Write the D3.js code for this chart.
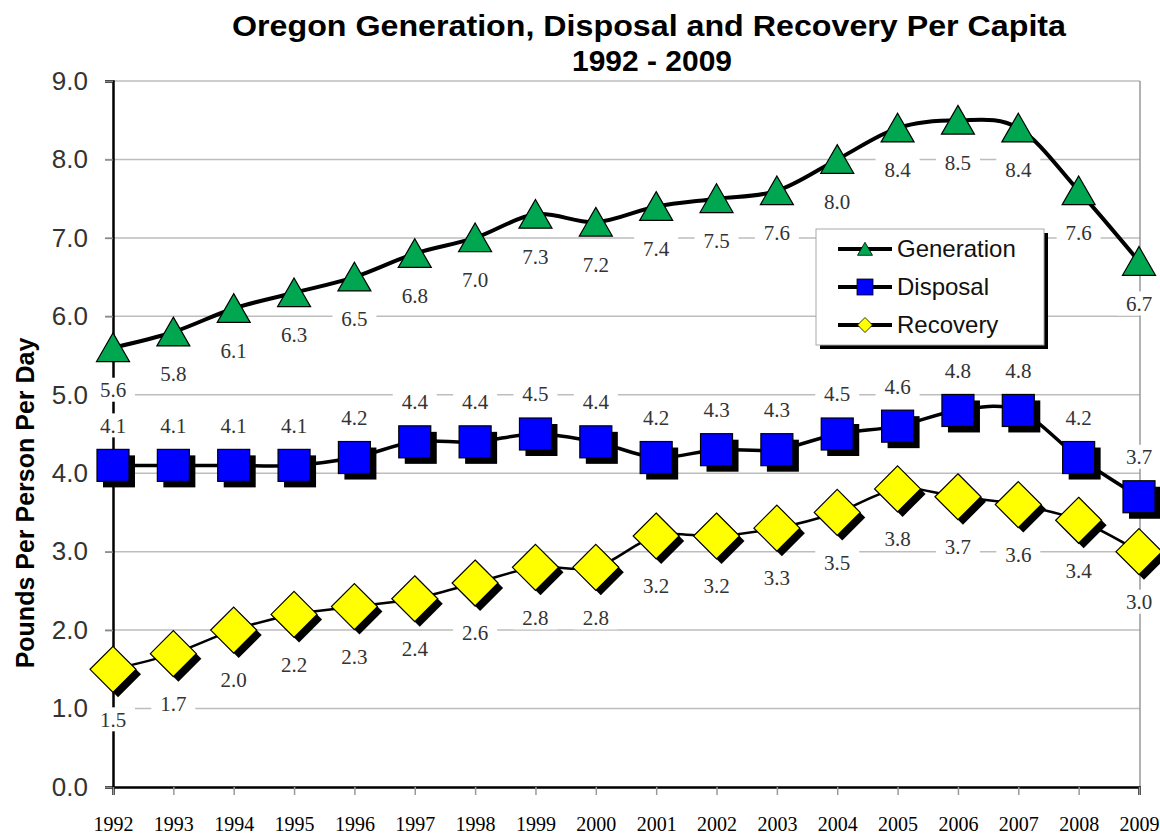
<!DOCTYPE html>
<html>
<head>
<meta charset="utf-8">
<script src="https://cdn.jsdelivr.net/npm/d3@7"></script>
<style>
  body { margin: 0; background: #fff; }
  svg { display: block; }
</style>
</head>
<body>
<div id="chart"></div>
<script>
const years = ["1992","1993","1994","1995","1996","1997","1998","1999","2000",
               "2001","2002","2003","2004","2005","2006","2007","2008","2009"];
const generation = [5.6, 5.8, 6.1, 6.3, 6.5, 6.8, 7.0, 7.3, 7.2, 7.4, 7.5, 7.6, 8.0, 8.4, 8.5, 8.4, 7.6, 6.7];
const disposal   = [4.1, 4.1, 4.1, 4.1, 4.2, 4.4, 4.4, 4.5, 4.4, 4.2, 4.3, 4.3, 4.5, 4.6, 4.8, 4.8, 4.2, 3.7];
const recovery   = [1.5, 1.7, 2.0, 2.2, 2.3, 2.4, 2.6, 2.8, 2.8, 3.2, 3.2, 3.3, 3.5, 3.8, 3.7, 3.6, 3.4, 3.0];
const yTicks = [0, 1, 2, 3, 4, 5, 6, 7, 8, 9];
const seriesNames = ["Generation", "Disposal", "Recovery"];

const width = 1160, height = 834;
const plotLeft = 113, plotRight = 1139, plotTop = 81, plotBottom = 787;

const svg = d3.select("#chart").append("svg")
    .attr("width", width)
    .attr("height", height);

const x = d3.scalePoint().domain(years).range([plotLeft, plotRight]);
const y = d3.scaleLinear().domain([0, 9]).range([plotBottom, plotTop]);

// Title
svg.append("text")
    .attr("x", 649).attr("y", 36)
    .attr("text-anchor", "middle")
    .attr("textLength", 834).attr("lengthAdjust", "spacingAndGlyphs")
    .style("font", "bold 29px Arial, 'Liberation Sans', sans-serif")
    .text("Oregon Generation, Disposal and Recovery Per Capita");
svg.append("text")
    .attr("x", 652).attr("y", 71)
    .attr("text-anchor", "middle")
    .attr("textLength", 160).attr("lengthAdjust", "spacingAndGlyphs")
    .style("font", "bold 29px Arial, 'Liberation Sans', sans-serif")
    .text("1992 - 2009");

// Y axis title
svg.append("text")
    .attr("transform", "translate(34,503) rotate(-90)")
    .attr("text-anchor", "middle")
    .style("font", "bold 25px Arial, 'Liberation Sans', sans-serif")
    .text("Pounds Per Person Per Day");

// Gridlines
svg.append("g")
    .selectAll("line")
    .data(yTicks.filter(d => d > 0))
    .join("line")
    .attr("x1", plotLeft - 8).attr("x2", plotRight + 1)
    .attr("y1", d => y(d)).attr("y2", d => y(d))
    .attr("stroke", "#bdbdbd")
    .attr("stroke-width", 1.5);

// right border of plot area
svg.append("line")
    .attr("x1", plotRight + 1).attr("x2", plotRight + 1)
    .attr("y1", plotTop).attr("y2", plotBottom)
    .attr("stroke", "#999")
    .attr("stroke-width", 1.5);

// Y axis
const yAxis = svg.append("g")
    .attr("transform", `translate(${plotLeft},0)`)
    .call(d3.axisLeft(y).tickValues(yTicks).tickFormat(d3.format(".1f")).tickSize(8).tickPadding(17));
yAxis.select(".domain").attr("stroke", "#000").attr("stroke-width", 2.5);
yAxis.selectAll(".tick line").attr("stroke", "#888").attr("stroke-width", 1.5);
yAxis.selectAll(".tick text")
    .attr("fill", "#333")
    .style("font", "26px Arial, 'Liberation Sans', sans-serif");

// X axis
const xAxis = svg.append("g")
    .attr("transform", `translate(0,${plotBottom})`)
    .call(d3.axisBottom(x).tickSize(8).tickPadding(22));
xAxis.select(".domain").attr("stroke", "#000").attr("stroke-width", 2.5);
xAxis.selectAll(".tick line").attr("stroke", "#999").attr("stroke-width", 1.5);
xAxis.selectAll(".tick text")
    .attr("fill", "#000")
    .style("font", "20px 'Times New Roman', 'Liberation Serif', serif");

const line = d3.line()
    .x((d, i) => x(years[i]))
    .y(d => y(d))
    .curve(d3.curveCardinal.tension(0));

// Series lines
svg.append("path").datum(generation).attr("d", line)
    .attr("fill", "none").attr("stroke", "#000").attr("stroke-width", 4);
svg.append("path").datum(disposal).attr("d", line)
    .attr("fill", "none").attr("stroke", "#000").attr("stroke-width", 3.5);
svg.append("path").datum(recovery).attr("d", line)
    .attr("fill", "none").attr("stroke", "#000").attr("stroke-width", 2.5);

// Markers
const tri = (s) => `M0,${-s * 0.45}L${s / 2},${s * 0.42}L${-s / 2},${s * 0.42}Z`;
const diamond = (s) => `M0,${-s / 2}L${s / 2},0L0,${s / 2}L${-s / 2},0Z`;

svg.append("g").selectAll("path")
    .data(generation)
    .join("path")
    .attr("transform", (d, i) => `translate(${x(years[i])},${y(d)})`)
    .attr("d", tri(33))
    .attr("fill", "#00a650")
    .attr("stroke", "#000").attr("stroke-width", 1.2);

const dispG = svg.append("g").selectAll("g")
    .data(disposal)
    .join("g")
    .attr("transform", (d, i) => `translate(${x(years[i])},${y(d)})`);
dispG.append("rect")
    .attr("x", -16 + 6).attr("y", -16 + 6).attr("width", 32).attr("height", 32)
    .attr("fill", "#000");
dispG.append("rect")
    .attr("x", -16).attr("y", -16).attr("width", 32).attr("height", 32)
    .attr("fill", "#0000ff")
    .attr("stroke", "#000").attr("stroke-width", 1.2);

const recG = svg.append("g").selectAll("g")
    .data(recovery)
    .join("g")
    .attr("transform", (d, i) => `translate(${x(years[i])},${y(d)})`);
recG.append("path")
    .attr("d", diamond(46))
    .attr("transform", "translate(5,5)")
    .attr("fill", "#000");
recG.append("path")
    .attr("d", diamond(46))
    .attr("fill", "#ffff00")
    .attr("stroke", "#000").attr("stroke-width", 1.2);

// Data labels with white boxes (they interrupt gridlines)
function addLabels(values, dy) {
    const g = svg.append("g").selectAll("g")
        .data(values)
        .join("g")
        .attr("transform", (d, i) => `translate(${x(years[i])},${y(d) + dy})`);
    g.append("rect")
        .attr("x", -22).attr("y", -12).attr("width", 44).attr("height", 24)
        .attr("fill", "#fff");
    g.append("text")
        .attr("text-anchor", "middle")
        .attr("dy", "0.35em")
        .attr("fill", "#333")
        .style("font", "21px 'Times New Roman', 'Liberation Serif', serif")
        .text(d => d.toFixed(1));
}
addLabels(generation, 42);
addLabels(disposal, -40);
addLabels(recovery, 50);

// Legend
const legend = svg.append("g").attr("transform", "translate(816,229)");
legend.append("rect")
    .attr("x", 4).attr("y", 4).attr("width", 228).attr("height", 116)
    .attr("fill", "#000");
legend.append("rect")
    .attr("x", 0).attr("y", 0).attr("width", 228).attr("height", 116)
    .attr("fill", "#fff")
    .attr("stroke", "#aaa").attr("stroke-width", 1);

const rows = legend.selectAll("g.row")
    .data(seriesNames)
    .join("g")
    .attr("class", "row")
    .attr("transform", (d, i) => `translate(0,${20 + i * 38})`);
rows.append("line")
    .attr("x1", 22).attr("x2", 76)
    .attr("stroke", "#000").attr("stroke-width", 4);
rows.filter((d, i) => i === 0).append("path")
    .attr("d", tri(15)).attr("fill", "#00a650").attr("stroke", "#000").attr("stroke-width", 0.8)
    .attr("transform", "translate(49,0)");
rows.filter((d, i) => i === 1).append("rect")
    .attr("x", 41).attr("y", -8).attr("width", 16).attr("height", 16)
    .attr("fill", "#0000ff").attr("stroke", "#000").attr("stroke-width", 0.8);
rows.filter((d, i) => i === 2).append("path")
    .attr("d", diamond(15)).attr("fill", "#ffff00").attr("stroke", "#000").attr("stroke-width", 0.8)
    .attr("transform", "translate(49,0)");
rows.append("text")
    .attr("x", 81).attr("dy", "0.35em")
    .attr("fill", "#111")
    .style("font", "24px Arial, 'Liberation Sans', sans-serif")
    .text(d => d);
</script>
</body>
</html>
